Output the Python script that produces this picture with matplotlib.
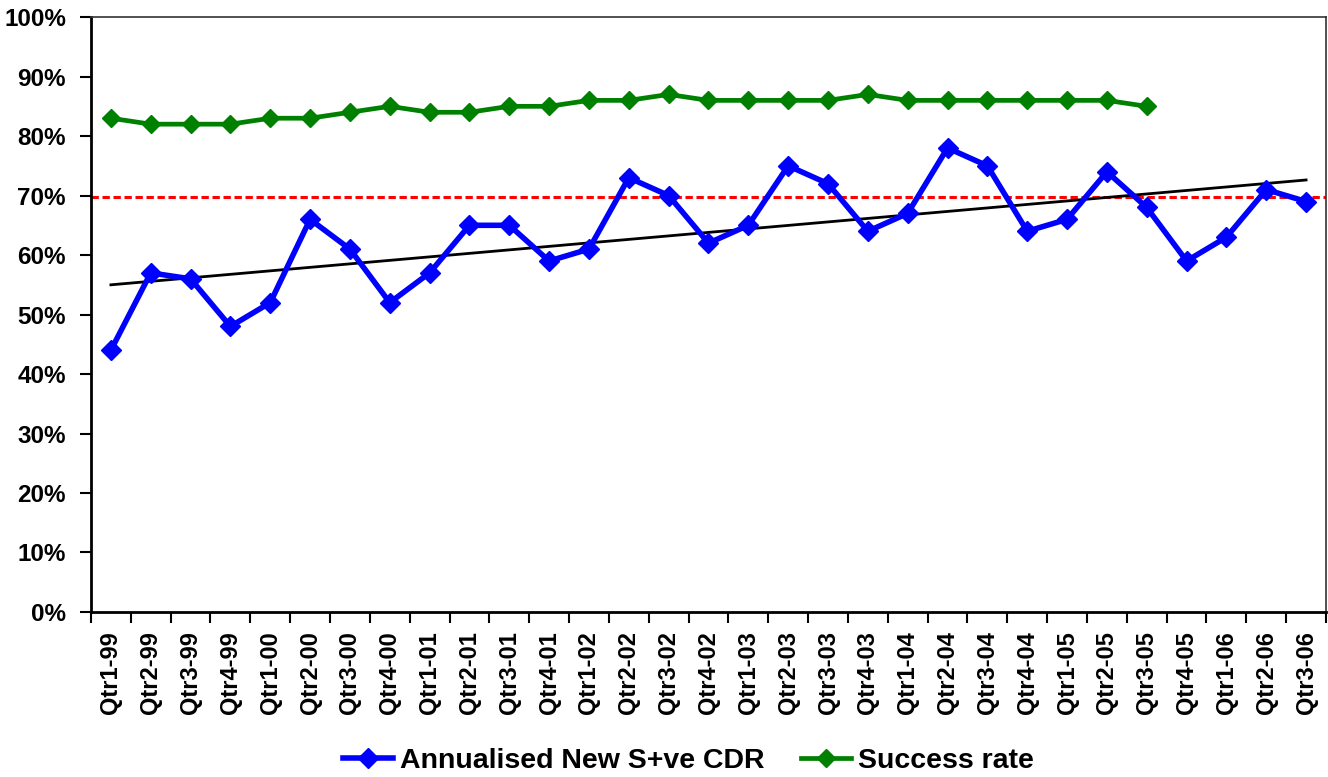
import matplotlib
matplotlib.use('Agg')
import matplotlib.pyplot as plt
import numpy as np

plt.rcParams['font.family'] = ['Liberation Sans', 'DejaVu Sans']
plt.rcParams['font.weight'] = 'bold'

quarters = ['Qtr1-99', 'Qtr2-99', 'Qtr3-99', 'Qtr4-99',
            'Qtr1-00', 'Qtr2-00', 'Qtr3-00', 'Qtr4-00',
            'Qtr1-01', 'Qtr2-01', 'Qtr3-01', 'Qtr4-01',
            'Qtr1-02', 'Qtr2-02', 'Qtr3-02', 'Qtr4-02',
            'Qtr1-03', 'Qtr2-03', 'Qtr3-03', 'Qtr4-03',
            'Qtr1-04', 'Qtr2-04', 'Qtr3-04', 'Qtr4-04',
            'Qtr1-05', 'Qtr2-05', 'Qtr3-05', 'Qtr4-05',
            'Qtr1-06', 'Qtr2-06', 'Qtr3-06']

# annualised new smear positive case detection rate (%)
cdr = [44, 57, 56, 48, 52, 66, 61, 52, 57, 65, 65, 59, 61, 73, 70, 62,
       65, 75, 72, 64, 67, 78, 75, 64, 66, 74, 68, 59, 63, 71, 69]

# treatment success rate (%), available up to Qtr3-05
success = [83, 82, 82, 82, 83, 83, 84, 85, 84, 84, 85, 85, 86, 86, 87, 86,
           86, 86, 86, 87, 86, 86, 86, 86, 86, 86, 85]

target = 69.7  # red dotted reference line

x = np.arange(len(quarters))
cdr_frac = np.array(cdr) / 100
succ_frac = np.array(success) / 100

# linear trend of the CDR, as in the original spreadsheet
slope, icpt = np.polyfit(x, cdr_frac, 1)
trend = slope * x + icpt

fig = plt.figure(figsize=(13.28, 7.77), dpi=100)
ax = fig.add_axes([0.0685, 0.2124, 0.93, 0.7656])

ax.axhline(target / 100, color='#FF0000', lw=2.2, ls=(0, (2.4, 1.2)), zorder=1)
ax.plot(x, trend, color='black', lw=2, zorder=2)
ax.plot(x, cdr_frac, color='#0000FF', lw=4, marker='D', ms=10.5,
        label='Annualised New S+ve CDR', zorder=3)
ax.plot(x[:len(success)], succ_frac, color='#008000', lw=3.4, marker='D', ms=9.5,
        label='Success rate', zorder=3)

ax.set_xlim(-0.5, len(quarters) - 0.5)
ax.set_ylim(0, 1)
yt = np.arange(0, 1.01, 0.1)
ax.set_yticks(yt)
ax.set_yticklabels([f'{int(round(v * 100))}%' for v in yt],
                   fontsize=17.5, fontweight='bold')

ax.set_xticks(x)
ax.set_xticklabels(quarters, rotation=90, fontsize=17, fontweight='bold')
ax.set_xticks(np.arange(-0.5, len(quarters)), minor=True)
ax.tick_params(axis='x', which='major', length=0, pad=14)
ax.tick_params(axis='x', which='minor', length=8, width=1.5, direction='out')
ax.tick_params(axis='y', length=8, width=1.5, direction='out', pad=10)

for side in ['left', 'bottom']:
    ax.spines[side].set_linewidth(2)
    ax.spines[side].set_color('black')
for side in ['top', 'right']:
    ax.spines[side].set_linewidth(1.2)
    ax.spines[side].set_color('#333333')

fig.legend(loc='center', bbox_to_anchor=(0.5185, 0.02), ncol=2, frameon=False,
           prop={'size': 20.5, 'weight': 'bold'}, handlelength=1.75,
           columnspacing=1.3, handletextpad=0.25)

fig.savefig('out.png', dpi=100)
